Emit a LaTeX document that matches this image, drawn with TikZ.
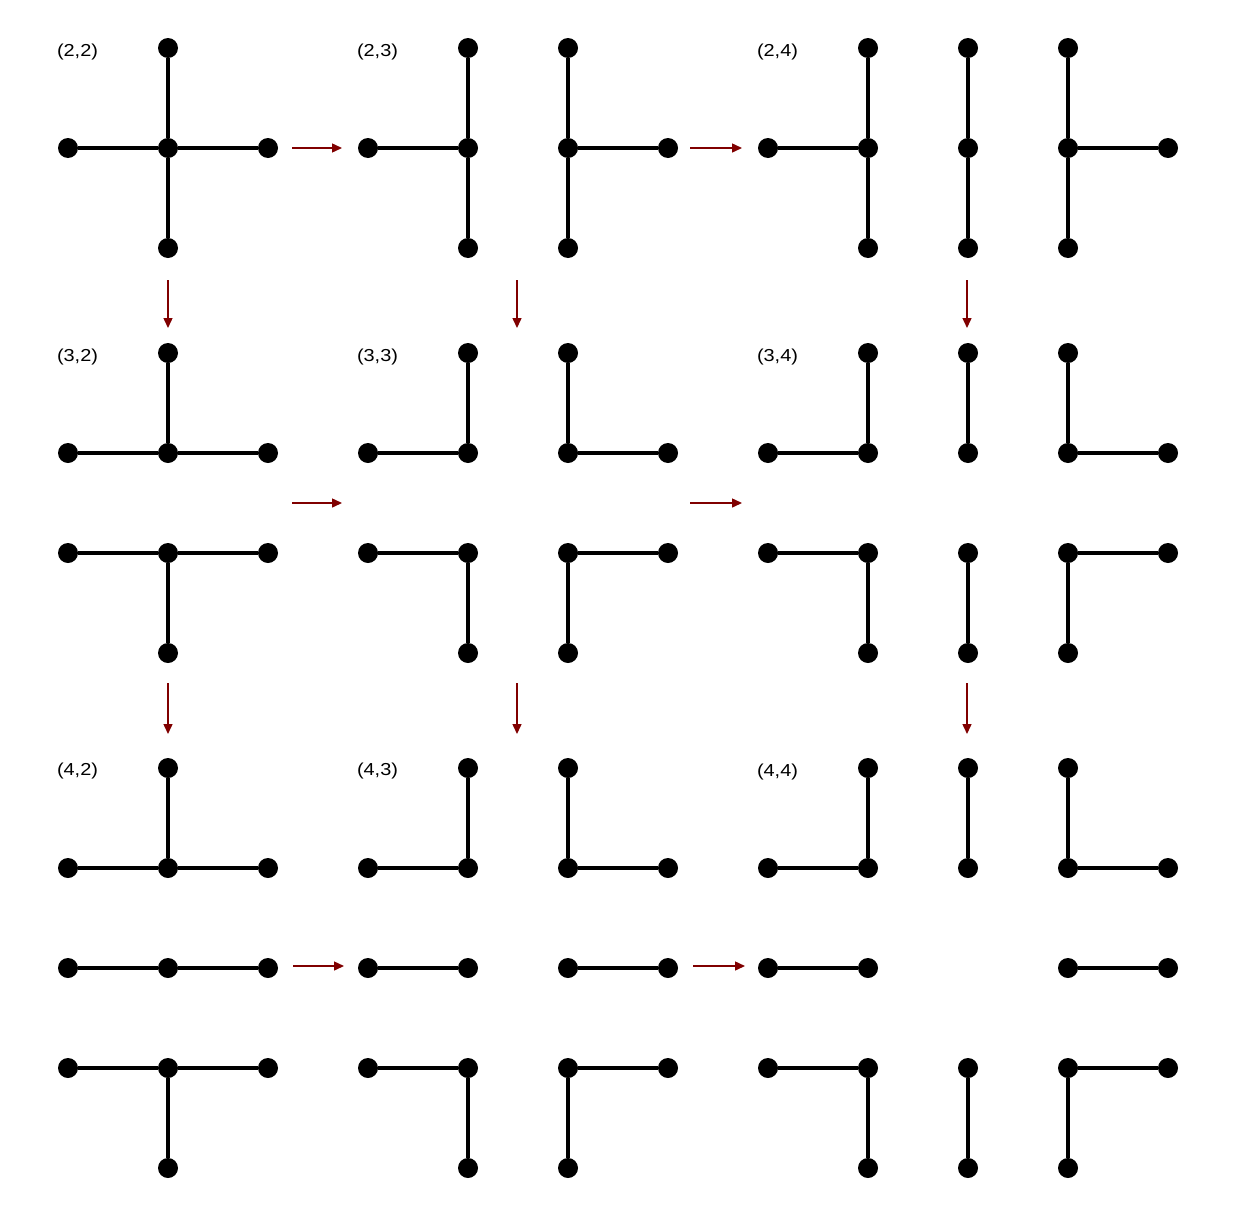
\documentclass[tikz,border=0pt]{standalone}
\usepackage{fontspec}
\usepackage{tikz}
\usetikzlibrary{arrows.meta}
\newfontfamily\labelfont[FakeStretch=1.15]{Liberation Sans}
\definecolor{darkred}{RGB}{128,0,0}

\begin{document}
\begin{tikzpicture}[x=0.75pt,y=-0.75pt,node distance=75pt,line width=3pt]

  \tikzstyle{vertex}=[circle,fill=black,inner sep=0pt,outer sep=0pt,minimum size=15pt]
  \tikzstyle{pairlabel}=[anchor=west,inner sep=0pt,
                         font=\labelfont\fontsize{13pt}{15pt}\selectfont]
  \tikzstyle{nextarrow}=[-{Triangle[length=7.5pt,width=6.75pt]},draw=darkred,
                         line width=1.1pt]

  \useasboundingbox (0,0) rectangle (1235,1217);

  % (2,2)
  \node[pairlabel] (t22) at (55,52) {(2,2)};
  \node[vertex] (b22c) at (168,148) {};
  \node[vertex] (b22l) [left of=b22c]  {};
  \node[vertex] (b22r) [right of=b22c] {};
  \node[vertex] (b22u) [above of=b22c] {};
  \node[vertex] (b22d) [below of=b22c] {};

  % (2,3)
  \node[pairlabel] (t23) at (355,52) {(2,3)};
  \node[vertex] (b23ac) at (468,148) {};
  \node[vertex] (b23al) [left of=b23ac]  {};
  \node[vertex] (b23au) [above of=b23ac] {};
  \node[vertex] (b23ad) [below of=b23ac] {};
  \node[vertex] (b23bc) [right of=b23ac] {};
  \node[vertex] (b23br) [right of=b23bc] {};
  \node[vertex] (b23bu) [above of=b23bc] {};
  \node[vertex] (b23bd) [below of=b23bc] {};

  % (2,4)
  \node[pairlabel] (t24) at (755,52) {(2,4)};
  \node[vertex] (b24ac) at (868,148) {};
  \node[vertex] (b24al) [left of=b24ac]  {};
  \node[vertex] (b24au) [above of=b24ac] {};
  \node[vertex] (b24ad) [below of=b24ac] {};
  \node[vertex] (b24bc) [right of=b24ac] {};
  \node[vertex] (b24bu) [above of=b24bc] {};
  \node[vertex] (b24bd) [below of=b24bc] {};
  \node[vertex] (b24cc) [right of=b24bc] {};
  \node[vertex] (b24cr) [right of=b24cc] {};
  \node[vertex] (b24cu) [above of=b24cc] {};
  \node[vertex] (b24cd) [below of=b24cc] {};

  % (3,2)
  \node[pairlabel] (t32) at (55,357) {(3,2)};
  \node[vertex] (b32ac) at (168,453) {};
  \node[vertex] (b32al) [left of=b32ac]  {};
  \node[vertex] (b32ar) [right of=b32ac] {};
  \node[vertex] (b32au) [above of=b32ac] {};
  \node[vertex] (b32bc) [below of=b32ac] {};
  \node[vertex] (b32bl) [left of=b32bc]  {};
  \node[vertex] (b32br) [right of=b32bc] {};
  \node[vertex] (b32bd) [below of=b32bc] {};

  % (3,3)
  \node[pairlabel] (t33) at (355,357) {(3,3)};
  \node[vertex] (b33ac) at (468,453) {};
  \node[vertex] (b33al) [left of=b33ac]  {};
  \node[vertex] (b33au) [above of=b33ac] {};
  \node[vertex] (b33bc) [right of=b33ac] {};
  \node[vertex] (b33br) [right of=b33bc] {};
  \node[vertex] (b33bu) [above of=b33bc] {};
  \node[vertex] (b33cc) [below of=b33ac] {};
  \node[vertex] (b33cl) [left of=b33cc]  {};
  \node[vertex] (b33cd) [below of=b33cc] {};
  \node[vertex] (b33dc) [right of=b33cc] {};
  \node[vertex] (b33dr) [right of=b33dc] {};
  \node[vertex] (b33dd) [below of=b33dc] {};

  % (3,4)
  \node[pairlabel] (t34) at (755,357) {(3,4)};
  \node[vertex] (b34ac) at (868,453) {};
  \node[vertex] (b34al) [left of=b34ac]  {};
  \node[vertex] (b34au) [above of=b34ac] {};
  \node[vertex] (b34bc) [right of=b34ac] {};
  \node[vertex] (b34bu) [above of=b34bc] {};
  \node[vertex] (b34cc) [right of=b34bc] {};
  \node[vertex] (b34cr) [right of=b34cc] {};
  \node[vertex] (b34cu) [above of=b34cc] {};
  \node[vertex] (b34dc) [below of=b34ac] {};
  \node[vertex] (b34dl) [left of=b34dc]  {};
  \node[vertex] (b34dd) [below of=b34dc] {};
  \node[vertex] (b34ec) [right of=b34dc] {};
  \node[vertex] (b34ed) [below of=b34ec] {};
  \node[vertex] (b34fc) [right of=b34ec] {};
  \node[vertex] (b34fr) [right of=b34fc] {};
  \node[vertex] (b34fd) [below of=b34fc] {};

  % (4,2)
  \node[pairlabel] (t42) at (55,771) {(4,2)};
  \node[vertex] (b42ac) at (168,868) {};
  \node[vertex] (b42al) [left of=b42ac]  {};
  \node[vertex] (b42ar) [right of=b42ac] {};
  \node[vertex] (b42au) [above of=b42ac] {};
  \node[vertex] (b42bc) [below of=b42ac] {};
  \node[vertex] (b42bl) [left of=b42bc]  {};
  \node[vertex] (b42br) [right of=b42bc] {};
  \node[vertex] (b42cc) [below of=b42bc] {};
  \node[vertex] (b42cl) [left of=b42cc]  {};
  \node[vertex] (b42cr) [right of=b42cc] {};
  \node[vertex] (b42cd) [below of=b42cc] {};

  % (4,3)
  \node[pairlabel] (t43) at (355,771) {(4,3)};
  \node[vertex] (b43ac) at (468,868) {};
  \node[vertex] (b43al) [left of=b43ac]  {};
  \node[vertex] (b43au) [above of=b43ac] {};
  \node[vertex] (b43bc) [right of=b43ac] {};
  \node[vertex] (b43br) [right of=b43bc] {};
  \node[vertex] (b43bu) [above of=b43bc] {};
  \node[vertex] (b43cc) [below of=b43ac] {};
  \node[vertex] (b43cl) [left of=b43cc]  {};
  \node[vertex] (b43dc) [right of=b43cc] {};
  \node[vertex] (b43dr) [right of=b43dc] {};
  \node[vertex] (b43ec) [below of=b43cc] {};
  \node[vertex] (b43el) [left of=b43ec]  {};
  \node[vertex] (b43ed) [below of=b43ec] {};
  \node[vertex] (b43fc) [right of=b43ec] {};
  \node[vertex] (b43fr) [right of=b43fc] {};
  \node[vertex] (b43fd) [below of=b43fc] {};

  % (4,4)
  \node[pairlabel] (t44) at (755,772) {(4,4)};
  \node[vertex] (b44ac) at (868,868) {};
  \node[vertex] (b44al) [left of=b44ac]  {};
  \node[vertex] (b44au) [above of=b44ac] {};
  \node[vertex] (b44bc) [right of=b44ac] {};
  \node[vertex] (b44bu) [above of=b44bc] {};
  \node[vertex] (b44cc) [right of=b44bc] {};
  \node[vertex] (b44cr) [right of=b44cc] {};
  \node[vertex] (b44cu) [above of=b44cc] {};
  \node[vertex] (b44dc) [below of=b44ac] {};
  \node[vertex] (b44dl) [left of=b44dc]  {};
  \node[vertex] (b44ec) [below of=b44cc] {};
  \node[vertex] (b44er) [right of=b44ec] {};
  \node[vertex] (b44fc) [below of=b44dc] {};
  \node[vertex] (b44fl) [left of=b44fc]  {};
  \node[vertex] (b44fd) [below of=b44fc] {};
  \node[vertex] (b44gc) [right of=b44fc] {};
  \node[vertex] (b44gd) [below of=b44gc] {};
  \node[vertex] (b44hc) [right of=b44gc] {};
  \node[vertex] (b44hr) [right of=b44hc] {};
  \node[vertex] (b44hd) [below of=b44hc] {};

  \path
  (b22c) edge (b22l)  (b22c) edge (b22r)  (b22c) edge (b22u)  (b22c) edge (b22d)

  (b23ac) edge (b23al)  (b23ac) edge (b23au)  (b23ac) edge (b23ad)
  (b23bc) edge (b23br)  (b23bc) edge (b23bu)  (b23bc) edge (b23bd)

  (b24ac) edge (b24al)  (b24ac) edge (b24au)  (b24ac) edge (b24ad)
  (b24bc) edge (b24bu)  (b24bc) edge (b24bd)
  (b24cc) edge (b24cr)  (b24cc) edge (b24cu)  (b24cc) edge (b24cd)

  (b32ac) edge (b32al)  (b32ac) edge (b32ar)  (b32ac) edge (b32au)
  (b32bc) edge (b32bl)  (b32bc) edge (b32br)  (b32bc) edge (b32bd)

  (b33ac) edge (b33al)  (b33ac) edge (b33au)
  (b33bc) edge (b33br)  (b33bc) edge (b33bu)
  (b33cc) edge (b33cl)  (b33cc) edge (b33cd)
  (b33dc) edge (b33dr)  (b33dc) edge (b33dd)

  (b34ac) edge (b34al)  (b34ac) edge (b34au)
  (b34bc) edge (b34bu)
  (b34cc) edge (b34cr)  (b34cc) edge (b34cu)
  (b34dc) edge (b34dl)  (b34dc) edge (b34dd)
  (b34ec) edge (b34ed)
  (b34fc) edge (b34fr)  (b34fc) edge (b34fd)

  (b42ac) edge (b42al)  (b42ac) edge (b42ar)  (b42ac) edge (b42au)
  (b42bc) edge (b42bl)  (b42bc) edge (b42br)
  (b42cc) edge (b42cl)  (b42cc) edge (b42cr)  (b42cc) edge (b42cd)

  (b43ac) edge (b43al)  (b43ac) edge (b43au)
  (b43bc) edge (b43br)  (b43bc) edge (b43bu)
  (b43cc) edge (b43cl)
  (b43dc) edge (b43dr)
  (b43ec) edge (b43el)  (b43ec) edge (b43ed)
  (b43fc) edge (b43fr)  (b43fc) edge (b43fd)

  (b44ac) edge (b44al)  (b44ac) edge (b44au)
  (b44bc) edge (b44bu)
  (b44cc) edge (b44cr)  (b44cc) edge (b44cu)
  (b44dc) edge (b44dl)
  (b44ec) edge (b44er)
  (b44fc) edge (b44fl)  (b44fc) edge (b44fd)
  (b44gc) edge (b44gd)
  (b44hc) edge (b44hr)  (b44hc) edge (b44hd)
  ;

  % steps between the blocks
  \coordinate (h1s) at (292,148);  \coordinate (h1e) at (342,148);
  \coordinate (h2s) at (690,148);  \coordinate (h2e) at (742,148);
  \coordinate (h3s) at (292,503);  \coordinate (h3e) at (342,503);
  \coordinate (h4s) at (690,503);  \coordinate (h4e) at (742,503);
  \coordinate (h5s) at (293,966);  \coordinate (h5e) at (344,966);
  \coordinate (h6s) at (693,966);  \coordinate (h6e) at (745,966);
  \coordinate (v1s) at (168,280);  \coordinate (v1e) at (168,328);
  \coordinate (v2s) at (517,280);  \coordinate (v2e) at (517,328);
  \coordinate (v3s) at (967,280);  \coordinate (v3e) at (967,328);
  \coordinate (v4s) at (168,683);  \coordinate (v4e) at (168,734);
  \coordinate (v5s) at (517,683);  \coordinate (v5e) at (517,734);
  \coordinate (v6s) at (967,683);  \coordinate (v6e) at (967,734);

  \draw[nextarrow] (h1s) -- (h1e);
  \draw[nextarrow] (h2s) -- (h2e);
  \draw[nextarrow] (h3s) -- (h3e);
  \draw[nextarrow] (h4s) -- (h4e);
  \draw[nextarrow] (h5s) -- (h5e);
  \draw[nextarrow] (h6s) -- (h6e);
  \draw[nextarrow] (v1s) -- (v1e);
  \draw[nextarrow] (v2s) -- (v2e);
  \draw[nextarrow] (v3s) -- (v3e);
  \draw[nextarrow] (v4s) -- (v4e);
  \draw[nextarrow] (v5s) -- (v5e);
  \draw[nextarrow] (v6s) -- (v6e);
\end{tikzpicture}
\end{document}
